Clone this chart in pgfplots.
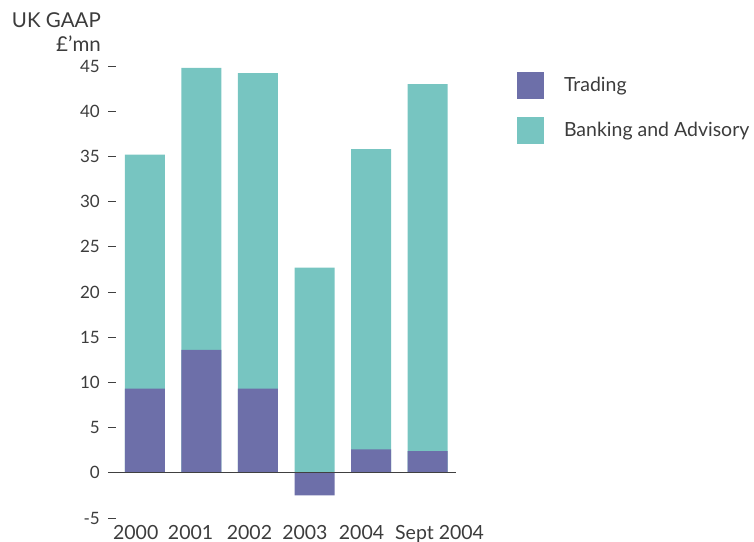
\documentclass[border=0pt]{standalone}
\usepackage{pgfplots}
\pgfplotsset{compat=1.18}
\usepackage{pgfplotstable}
\usepackage{fontspec}
\setmainfont{Lato}
\definecolor{tradingc}{RGB}{109,111,169}
\definecolor{bankc}{RGB}{119,197,193}
\definecolor{txt}{RGB}{60,60,60}
\pgfplotstableread{
x trading banking
0 9.3 25.9
1 13.6 31.2
2 9.3 34.9
3 -2.5 22.7
4 2.6 33.2
5 2.4 40.6
}\datatable
\begin{document}
\begin{tikzpicture}
\begin{axis}[
  at={(108bp,24bp)}, anchor=south west,
  scale only axis, width=348bp, height=452bp,
  xmin=-0.65, xmax=5.5, ymin=-5, ymax=45,
  axis line style={draw=none},
  xtick={-0.16,0.81,1.85,2.83,3.83,5.21},
  xticklabels={2000,2001,2002,2003,2004,Sept 2004},
  x tick style={draw=none},
  x tick label style={font=\fontsize{19.5bp}{22bp}\selectfont, text=txt, anchor=base, inner sep=0pt, yshift=-13bp},
  ytick={-5,0,...,45},
  ytick pos=left, tick align=inside,
  major tick length=8bp,
  y tick style={draw=black!75, line width=1pt},
  y tick label style={font=\fontsize{17bp}{20bp}\selectfont, text=txt, inner sep=0pt, xshift=-8bp},
  /pgf/number format/assume math mode=true,
  ybar, bar width=40bp, bar shift=0pt,
  clip=false,
  legend style={at={(rel axis cs:1.165,0.992)}, anchor=north west, draw=none, fill=none,
    font=\fontsize{19.5bp}{22bp}\selectfont, text=txt,
    nodes={inner sep=0pt}, row sep=19bp,
    /tikz/every odd column/.append style={column sep=21bp}},
  legend cell align=left,
]
\addlegendimage{legend image code/.code={\fill[tradingc] (0bp,-13bp) rectangle (26bp,13bp);}}
\addlegendentry{Trading}
\addlegendimage{legend image code/.code={\fill[bankc] (0bp,-13bp) rectangle (26bp,13bp);}}
\addlegendentry{Banking and Advisory}
\addplot[fill=bankc, draw=none, forget plot] table[x=x, y expr={max(\thisrow{trading},0)+\thisrow{banking}}] {\datatable};
\addplot[fill=tradingc, draw=none, forget plot] table[x=x, y=trading] {\datatable};
\draw[black!75, line width=0.8pt] (axis cs:-0.65,0) -- (axis cs:5.5,0);
\end{axis}
\node[anchor=base east, text=txt, font=\fontsize{20.5bp}{22bp}\selectfont, inner sep=0pt] at (101bp,514bp) {UK GAAP};
\node[anchor=base east, text=txt, font=\fontsize{20.5bp}{22bp}\selectfont, inner sep=0pt] at (101bp,490bp) {£'mn};
\pgfresetboundingbox
\path[use as bounding box] (0,0) rectangle (754bp,542bp);
\end{tikzpicture}
\end{document}
